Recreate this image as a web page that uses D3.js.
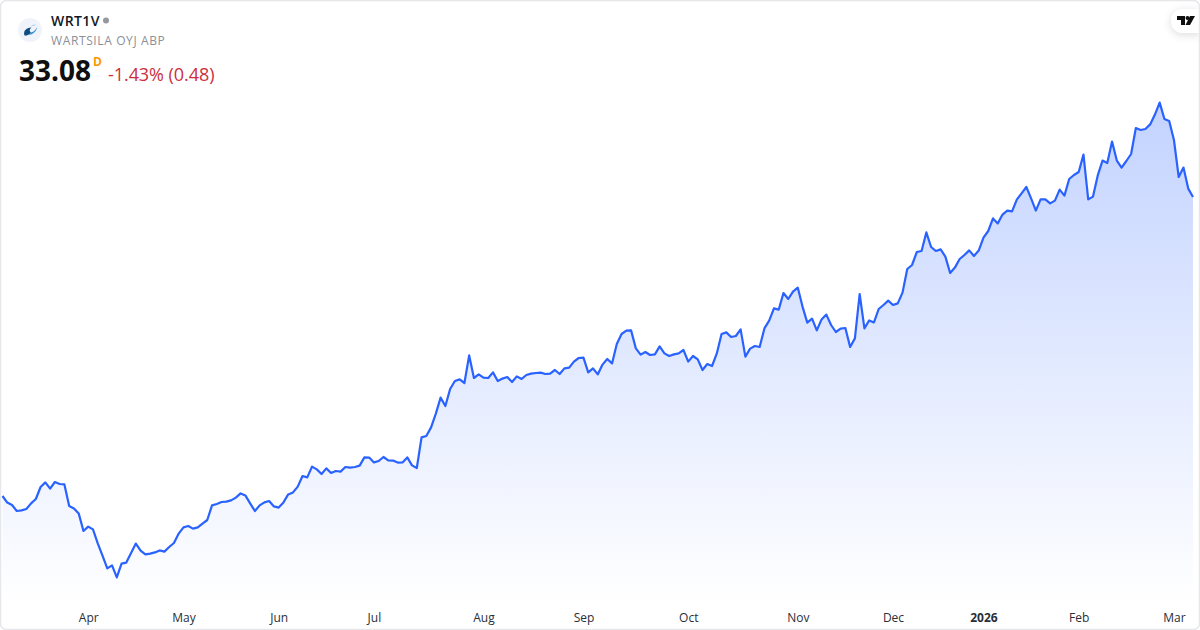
<!DOCTYPE html>
<html><head><meta charset="utf-8">
<style>
html,body{margin:0;padding:0;background:#fff;width:1200px;height:630px;overflow:hidden}
svg{display:block;font-family:"Open Sans","Noto Sans",sans-serif}
</style>
<script src="https://cdn.jsdelivr.net/npm/d3@7"></script>
</head><body>
<svg id="c" width="1200" height="630"></svg>
<script>
const symbol="WRT1V", company="WARTSILA OYJ ABP", lastPrice="33.08", interval="D", change="-1.43% (0.48)";
const closes=[18.13,17.80,17.68,17.38,17.41,17.48,17.76,17.98,18.58,18.81,18.50,18.83,18.73,18.71,17.63,17.51,17.26,16.38,16.60,16.46,
15.76,15.15,14.51,14.66,14.06,14.75,14.80,15.28,15.75,15.40,15.21,15.25,15.31,15.41,15.35,15.58,15.78,16.25,16.56,16.63,
16.50,16.56,16.75,16.93,17.66,17.73,17.83,17.85,17.91,18.05,18.26,18.16,17.76,17.38,17.66,17.81,17.88,17.61,17.55,17.81,
18.21,18.31,18.60,19.13,19.06,19.60,19.46,19.23,19.51,19.28,19.38,19.35,19.58,19.55,19.58,19.65,20.06,20.05,19.81,19.88,
20.08,19.91,19.90,19.80,19.81,20.06,19.66,19.53,21.06,21.13,21.56,22.25,23.05,22.63,23.48,23.88,23.96,23.78,25.16,24.03,
24.21,24.05,24.03,24.31,23.88,24.00,24.08,23.83,24.11,23.98,24.18,24.25,24.28,24.30,24.23,24.25,24.43,24.23,24.51,24.55,
24.85,25.03,25.05,24.31,24.51,24.21,24.70,24.98,24.76,25.73,26.23,26.40,26.41,25.51,25.20,25.33,25.18,25.21,25.61,25.26,
25.13,25.21,25.26,25.43,24.85,25.13,24.96,24.43,24.73,24.63,25.26,26.23,26.31,26.08,26.13,26.46,25.10,25.50,25.63,25.58,
26.51,26.90,27.51,27.45,28.28,27.98,28.35,28.55,27.60,26.80,27.00,26.41,26.96,27.20,26.68,26.33,26.50,26.53,25.58,26.01,
28.23,26.51,26.91,26.81,27.48,27.68,27.90,27.68,27.76,28.30,29.48,29.68,30.33,30.38,31.31,30.58,30.38,30.46,30.10,29.28,
29.55,29.98,30.18,30.41,30.13,30.40,31.05,31.38,32.01,31.76,32.20,32.40,32.36,32.95,33.26,33.58,33.01,32.40,32.96,32.96,
32.76,32.90,33.45,33.15,33.98,34.18,34.33,35.20,32.96,33.10,34.16,34.90,34.78,35.85,34.90,34.55,34.88,35.23,36.53,36.43,
36.48,36.71,37.20,37.80,36.98,36.88,35.93,34.08,34.55,33.50,33.08];
const tickLabels=["Apr","May","Jun","Jul","Aug","Sep","Oct","Nov","Dec","2026","Feb","Mar"];
const tickSessions=[18,38,58,78,101,122,144,167,187,206,226,246];

const svg=d3.select("#c");
const defs=svg.append("defs");
const grad=defs.append("linearGradient").attr("id","fill").attr("gradientUnits","userSpaceOnUse")
  .attr("x1",0).attr("x2",0).attr("y1",102).attr("y2",604);
grad.append("stop").attr("offset",0).attr("stop-color","#2962ff").attr("stop-opacity",0.28);
grad.append("stop").attr("offset",1).attr("stop-color","#2962ff").attr("stop-opacity",0);
const sh=defs.append("filter").attr("id","sh").attr("x","-50%").attr("y","-50%").attr("width","200%").attr("height","200%");
sh.append("feDropShadow").attr("dx",0).attr("dy",2).attr("stdDeviation",4).attr("flood-color","#000").attr("flood-opacity",0.14);

const x=d3.scaleLinear().domain([0,closes.length-1]).range([2.5,1193]);
// 20 px per currency unit
const y=d3.scaleLinear().domain([42.93,12.93]).range([0,600]);
const bottom=604;

const area=d3.area().x((d,i)=>x(i)).y0(bottom).y1(d=>y(d));
const line=d3.line().x((d,i)=>x(i)).y(d=>y(d));
svg.append("path").datum(closes).attr("d",area).attr("fill","url(#fill)");
svg.append("path").datum(closes).attr("d",line).attr("fill","none").attr("stroke","#2962ff").attr("stroke-width",2.2).attr("stroke-linejoin","round").attr("stroke-linecap","butt");

const axis=d3.axisBottom(x).tickValues(tickSessions).tickSize(0).tickPadding(0).tickFormat((d,i)=>tickLabels[i]);
const ax=svg.append("g").attr("transform","translate(0,613)").call(axis);
ax.select(".domain").remove();
ax.selectAll("text").attr("fill","#2a2e39").attr("font-size",12).attr("font-family",'"Open Sans","Noto Sans",sans-serif')
  .attr("font-weight",(d,i)=>tickLabels[i]==="2026"?700:400);

// header
const lg=svg.append("g");
lg.append("circle").attr("cx",30).attr("cy",30).attr("r",12).attr("fill","#f0f3fa");
lg.append("path").attr("d","M24.5 35.5 C23 31 26 28 31.5 27.5 C29 29.5 29.5 31.5 31 32.5 C29 35 26.5 35.8 24.5 35.5Z").attr("fill","#0f4c81");
lg.append("path").attr("d","M31 32.5 C34 32 36 29.5 37 27 C36.8 31 33.5 34.5 28 35.2 C29.4 34.7 30.4 33.7 31 32.5Z").attr("fill","#2b8fd6");
lg.append("path").attr("d","M31 26.5 C32.5 25 34.5 24.4 36 25 C34.5 25.2 33 25.7 31 26.5Z").attr("fill","#7fb4dd");
svg.append("text").attr("x",51).attr("y",26).attr("font-size",14).attr("font-weight",600).attr("letter-spacing",0.4).attr("fill","#131722").text(symbol);
svg.append("circle").attr("cx",106).attr("cy",20.5).attr("r",3).attr("fill","#9598a1");
svg.append("text").attr("x",51).attr("y",45).attr("font-size",12).attr("fill","#8c8f99").attr("letter-spacing",0.62).text(company);
svg.append("text").attr("x",19).attr("y",81).attr("font-size",28).attr("font-weight",700).attr("fill","#0f0f0f").text(lastPrice);
svg.append("text").attr("x",93).attr("y",66).attr("font-size",12).attr("font-weight",700).attr("fill","#ff9800").text(interval);
svg.append("text").attr("x",108).attr("y",81).attr("font-size",18).attr("letter-spacing",-0.06).attr("fill","#cc2f3c").text(change);

// watermark pill
svg.append("path").attr("d","M1200 9 H1183 A12 12 0 0 0 1183 33 H1200 Z").attr("fill","#fff").attr("filter","url(#sh)");
const tv=svg.append("g").attr("fill","#0f0f0f");
tv.append("path").attr("d","M1177 16 H1185 V25 H1181 V20 H1177 Z");
tv.append("circle").attr("cx",1187.5).attr("cy",18).attr("r",2);
tv.append("path").attr("d","M1190 16 H1195 L1190 25 H1185.5 Z");

// frame
svg.append("rect").attr("x",0.5).attr("y",0.5).attr("width",1199).attr("height",629).attr("rx",6).attr("fill","none").attr("stroke","#e6e7ea").attr("stroke-width",1.5);
</script>
</body></html>
